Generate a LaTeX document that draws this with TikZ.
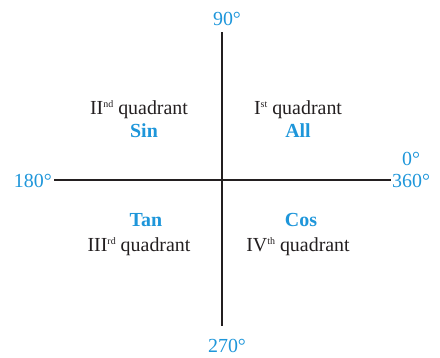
\documentclass[tikz,border=0pt]{standalone}
\usepackage{fontspec}
\setmainfont{Liberation Serif}
\usetikzlibrary{positioning}
\definecolor{quadblue}{RGB}{30,150,218}
\definecolor{quadtext}{RGB}{35,31,32}
\newcommand{\qsup}[1]{\raisebox{6.5bp}{\fontsize{10}{10}\selectfont #1}}

\begin{document}
\begin{tikzpicture}[x=1bp,y=-1bp,
  axis/.style={line width=1.3bp,quadtext},
  angle/.style={text=quadblue,font=\fontsize{20}{24}\selectfont,inner sep=0pt},
  quad/.style={text=quadtext,font=\fontsize{20}{24}\selectfont,anchor=base,inner sep=0pt},
  fn/.style={text=quadblue,font=\fontsize{20}{24}\selectfont\bfseries,anchor=base,inner sep=0pt}]
  \useasboundingbox (0,0) rectangle (440,357);
  % axes
  \coordinate (O) at (222,180);
  \coordinate (top) at (222,32);
  \coordinate (bottom) at (222,326);
  \coordinate (left) at (54,180);
  \coordinate (right) at (391,180);
  \draw[axis] (left) -- (right);
  \draw[axis] (top) -- (bottom);
  % angles
  \node[angle,above=6bp of top,xshift=5bp] (a90) {90°};
  \node[angle,below=13bp of bottom,xshift=5bp] (a270) {270°};
  \node[angle,left=2bp of left,yshift=-1bp] (a180) {180°};
  \node[angle,right=1bp of right,yshift=-1bp] (a360) {360°};
  \node[angle,above=8bp of a360] (a0) {0°};
  % quadrants
  \node[quad] (q2) at (139,114) {II\qsup{nd} quadrant};
  \node[fn]   (sin) at (144,137) {Sin};
  \node[quad] (q1) at (298,114) {I\qsup{st} quadrant};
  \node[fn]   (all) at (298,137) {All};
  \node[fn]   (tan) at (146,226) {Tan};
  \node[quad] (q3) at (139,251) {III\qsup{rd} quadrant};
  \node[fn]   (cos) at (301,226) {Cos};
  \node[quad] (q4) at (298,251) {IV\qsup{th} quadrant};
\end{tikzpicture}
\end{document}
